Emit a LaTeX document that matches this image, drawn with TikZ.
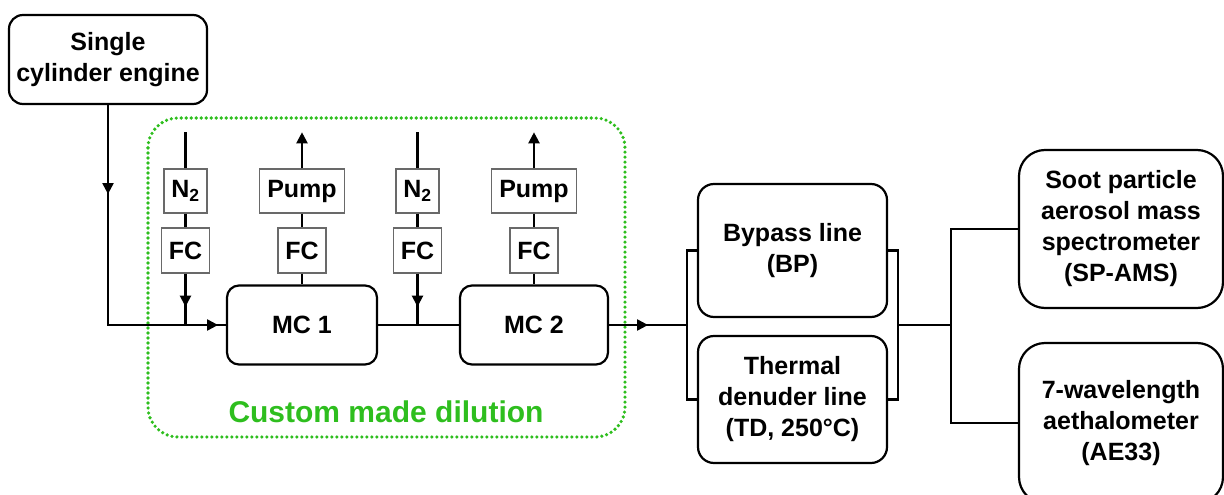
\documentclass[tikz,border=0pt]{standalone}
\usepackage{fontspec}
\setmainfont{Liberation Sans}
\usepackage{xcolor}
\definecolor{dilgreen}{RGB}{46,190,30}
\definecolor{boxgray}{RGB}{105,105,105}
\usetikzlibrary{arrows.meta, positioning, decorations.markings}

\tikzset{
  pipe/.style={line width=2.1pt},
  bigbox/.style={draw, line width=2.2pt, rounded corners=#1, align=center, inner sep=0pt},
  bigbox/.default=14pt,
  smallbox/.style={draw=boxgray, line width=1.4pt, inner sep=0pt},
  flowtip/.style={postaction={decorate, decoration={markings,
      mark=at position #1 with {\arrow{Triangle[length=11pt,width=11pt]}}}}}
}

\begin{document}
\begin{tikzpicture}[x=1pt, y=-1pt, every node/.style={font=\bfseries\fontsize{25}{31}\selectfont}]
  \useasboundingbox (0,0) rectangle (1224,495);
  % Dilution frame
  \draw[dilgreen, line width=3.6pt, line cap=round, dash pattern=on 0pt off 5pt, rounded corners=30pt] (148,118) rectangle (625,437);
  \node[text=dilgreen, font=\bfseries\fontsize{30}{36}\selectfont] (dillabel) at (386,412) {Custom made dilution};

  % Engine
  \node[bigbox, minimum width=198pt, minimum height=89pt] (engine) at (108,59.5) {Single\\cylinder engine};
  % Mixing chambers
  \node[bigbox=12pt, minimum width=150pt, minimum height=79pt] (mc1) at (302,325) {MC 1};
  \node[bigbox=12pt, minimum width=148pt, minimum height=79pt] (mc2) at (534,325) {MC 2};

  % Flow controllers
  \foreach \i/\x/\lab/\w in {1/185.5/{N\textsubscript{2}}/43pt, 2/302/Pump/85pt,
      3/417.5/{N\textsubscript{2}}/43pt, 4/534/Pump/85pt} {
    \node[smallbox, minimum width=\w, minimum height=44pt] (top\i) at (\x,191) {\lab};
    \node[smallbox, minimum width=48pt, minimum height=45pt] (fc\i) at (\x,250.5) {FC};
    \draw[pipe] (top\i) -- (fc\i);
    \coordinate (end\i) at ([yshift=36pt]top\i.north);
  }
  % N2 inlets
  \draw[pipe] (end1) -- (top1);
  \draw[pipe] (end3) -- (top3);
  \draw[pipe, flowtip=33pt] (fc1.south) -- (fc1.south |- mc1.west);
  \draw[pipe, flowtip=33pt] (fc3.south) -- (fc3.south |- mc1.east);
  % Pump outlets
  \draw[pipe, -{Triangle[length=11pt,width=11pt]}] (top2) -- (end2);
  \draw[pipe, -{Triangle[length=11pt,width=11pt]}] (top4) -- (end4);
  \draw[pipe] (fc2) -- (mc1);
  \draw[pipe] (fc4) -- (mc2);

  % Main line
  \draw[pipe, flowtip=89pt, flowtip=330pt] (engine.south) |- (mc1.west);
  \draw[pipe] (mc1) -- (mc2);

  % Sampling lines
  \node[bigbox=16pt, minimum width=189pt, minimum height=133pt] (bp) at (792.5,250.5) {Bypass line\\(BP)};
  \node[bigbox=16pt, minimum width=189pt, minimum height=127pt] (td) at (792.5,399.5) {Thermal\\denuder line\\(TD, 250°C)};
  \coordinate (splitL) at (687,325);
  \coordinate (splitR) at (898,325);
  \coordinate (splitM) at (951,325);
  \draw[pipe, flowtip=39pt] (mc2.east) -- (splitL);
  \draw[pipe] (bp.west) -| (splitL) |- (td.west);
  \draw[pipe] (bp.east) -| (splitR) |- (td.east);
  \draw[pipe] (splitR) -- (splitM);

  % Instruments
  \node[bigbox=26pt, minimum width=204pt, minimum height=158pt] (ams) at (1121,229) {Soot particle\\aerosol mass\\spectrometer\\(SP-AMS)};
  \node[bigbox=26pt, minimum width=204pt, minimum height=160pt] (ae) at (1121,423) {7-wavelength\\aethalometer\\(AE33)};
  \draw[pipe] (ams.west) -| (splitM) |- (ae.west);
\end{tikzpicture}
\end{document}
